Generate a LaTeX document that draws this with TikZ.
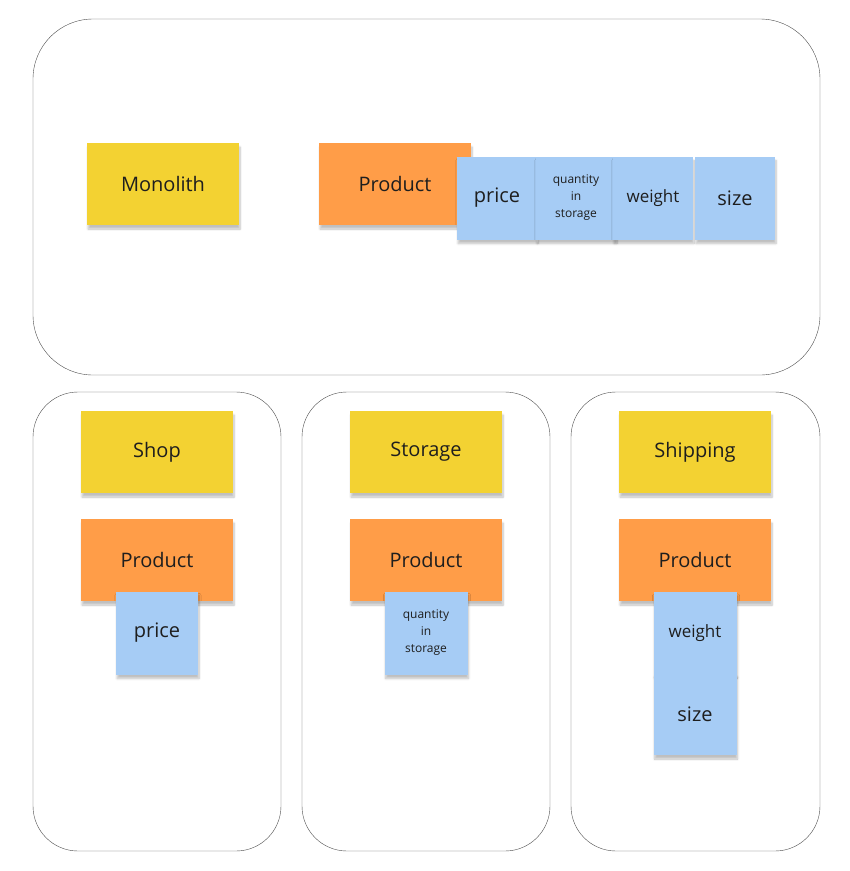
\documentclass[tikz,border=0pt]{standalone}
\usepackage{fontspec}
\setmainfont{Open Sans}
\usetikzlibrary{shadows.blur}
\definecolor{noteyellow}{RGB}{243,210,50}
\definecolor{noteorange}{RGB}{255,157,72}
\definecolor{noteblue}{RGB}{166,204,245}
\definecolor{notetext}{RGB}{30,30,30}
\tikzset{
    frame/.style={draw=black!70, thin, rounded corners=#1},
    note/.style={
        rectangle, inner sep=2pt, text=notetext, align=center,
        blur shadow={shadow xshift=1pt, shadow yshift=-4pt, shadow blur steps=6, shadow opacity=25},
        font=\fontsize{20}{22}\selectfont
    },
    bignote/.style={note, minimum width=152pt, minimum height=82pt},
    smallnote/.style={note, fill=noteblue, minimum width=80pt, minimum height=83pt},
    tinytext/.style={font=\fontsize{12}{17}\selectfont}
}
\begin{document}
\begin{tikzpicture}[x=1pt, y=-1pt]
\useasboundingbox (0,0) rectangle (850,871);

% Frames
\draw[frame=60pt] (33,19) rectangle (820,375);
\draw[frame=45pt] (33,392) rectangle (281,851);
\draw[frame=45pt] (302,392) rectangle (550,851);
\draw[frame=45pt] (571,392) rectangle (820,851);

% Monolith
\node[bignote, fill=noteyellow] (mono) at (163,184) {Monolith};
\node[bignote, fill=noteorange] (prod) at (395,184) {Product};
\node[smallnote] (price) at (497,198) {price};
\node[smallnote, tinytext] (qty) at (576,198) {quantity\\in\\storage};
\node[smallnote, font=\fontsize{17}{20}\selectfont] (weight) at (653,198) {weight};
\node[smallnote] (size) at (735,198) {size};

% Shop
\node[bignote, fill=noteyellow] (shop) at (157,452) {Shop};
\node[bignote, fill=noteorange] (shopprod) at (157,560) {Product};
\node[smallnote, minimum width=82pt] (shopprice) at (157,633) {price};

% Storage
\node[bignote, fill=noteyellow] (storage) at (426,452) {Storage};
\node[bignote, fill=noteorange] (storprod) at (426,560) {Product};
\node[smallnote, minimum width=83pt, tinytext] (storqty) at (426,633) {quantity\\in\\storage};

% Shipping
\node[bignote, fill=noteyellow] (ship) at (695,452) {Shipping};
\node[bignote, fill=noteorange] (shipprod) at (695,560) {Product};
\node[smallnote, minimum width=83pt, minimum height=82pt, font=\fontsize{17}{20}\selectfont] (shipweight) at (695,633) {weight};
\node[smallnote, minimum width=83pt, minimum height=82pt] (shipsize) at (695,714) {size};

\end{tikzpicture}
\end{document}
